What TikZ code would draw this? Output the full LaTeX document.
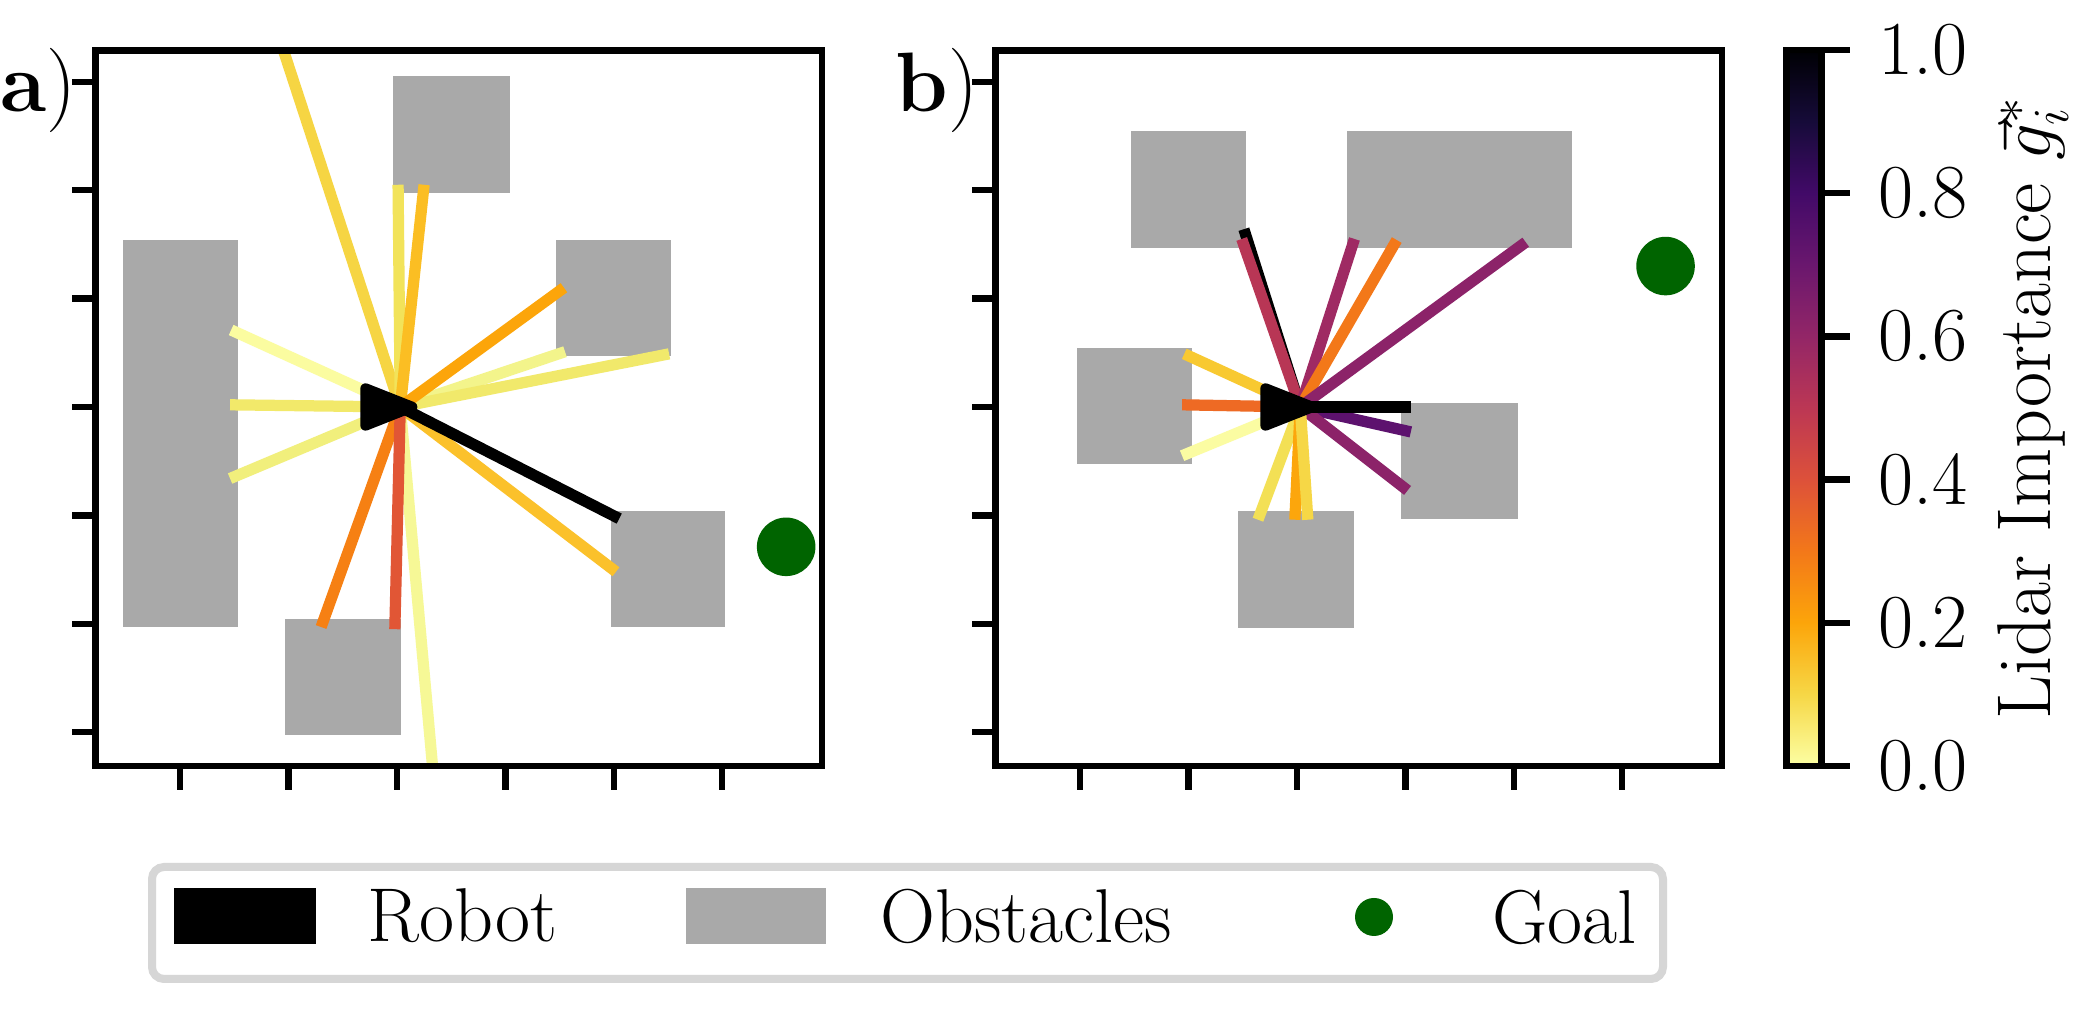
\documentclass[tikz,border=0pt]{standalone}
\usetikzlibrary{positioning}

\definecolor{obstgray}{HTML}{A9A9A9}
\definecolor{goalgreen}{HTML}{006400}
\definecolor{legframe}{HTML}{D6D6D6}
\definecolor{cb0}{HTML}{FCFFA4}
\definecolor{cb1}{HTML}{F6D746}
\definecolor{cb2}{HTML}{FCA50A}
\definecolor{cb3}{HTML}{F37819}
\definecolor{cb4}{HTML}{DD513A}
\definecolor{cb5}{HTML}{BC3754}
\definecolor{cb6}{HTML}{932667}
\definecolor{cb7}{HTML}{6A176E}
\definecolor{cb8}{HTML}{420A68}
\definecolor{cb9}{HTML}{160B39}
\definecolor{cb10}{HTML}{000004}
\pgfdeclareverticalshading{infernor}{100bp}{color(0bp)=(cb0); color(25bp)=(cb0);
	color(30bp)=(cb1); color(35bp)=(cb2); color(40bp)=(cb3); color(45bp)=(cb4);
	color(50bp)=(cb5); color(55bp)=(cb6); color(60bp)=(cb7); color(65bp)=(cb8);
	color(70bp)=(cb9); color(75bp)=(cb10); color(100bp)=(cb10)}

\begin{document}
\begin{tikzpicture}[
		every node/.style={inner sep=0pt,font=\fontsize{21.7}{26}\selectfont},
		axframe/.style={line width=1.8pt},
		axtick/.style={line width=1.8pt},
		obst/.style={fill=obstgray},
		goal/.style={fill=goalgreen},
		ray/.style={line width=3.2pt},
		robot/.style={fill=black,draw=black,line width=3pt,line join=round},
		panellbl/.style={font=\fontsize{24}{28}\selectfont,anchor=base west}
		]
	\fill[white] (0,0) rectangle (21,10.2);
	\useasboundingbox (0,0) rectangle (21,10.2);

	\node[panellbl] (lbla) at (0,9.08) {\textbf{a})};
	\node[panellbl] (lblb) at (8.95,9.08) {\textbf{b})};

	\begin{scope}[shift={(3.97,6.13)},x=1.084cm,y=1.084cm]
		\coordinate (roba) at (0.03,0);
		\fill[obst] (-2.53,-2.03) rectangle (-1.47,1.54);
		\fill[obst] (-0.04,1.97) rectangle (1.04,3.05);
		\fill[obst] (1.47,0.47) rectangle (2.53,1.54);
		\fill[obst] (1.97,-2.03) rectangle (3.03,-0.96);
		\fill[obst] (-1.03,-3.03) rectangle (0.04,-1.96);
		\fill[goal] (3.59,-1.29) circle (0.27);
		\begin{scope}
			\clip (-2.78,-3.31) rectangle (3.92,3.29);
			\foreach \ex/\ey/\rc in {-1.10/3.45/F6D543, 0.34/-3.45/F6F896,
					-1.53/0.71/FBFCA0, -1.54/0.02/F2E96A, -1.54/-0.66/F1EF7C,
					0.01/2.05/F2E35A, 0.25/2.05/FBBE23, 1.55/0.51/F3F48B,
					2.51/0.49/F1E96B, 1.54/1.10/FCA50A, 2.02/-1.52/FBC12B,
					-0.70/-2.03/F68013, -0.02/-2.05/E15635, 2.05/-1.03/000000}{
				\definecolor{raycol}{HTML}{\rc}
				\draw[ray,raycol] (roba) -- (\ex,\ey);
			}
		\end{scope}
		\draw[robot,shift={(0.03,0)}] (-0.32,0.17) -- (-0.32,-0.17) -- (0.11,0) -- cycle;
		\draw[axframe] (-2.78,-3.31) rectangle (3.92,3.29);
		\foreach \t in {-3,...,3}
			\draw[axtick] (-2.78,\t) -- ++(-0.24cm,0);
		\foreach \t in {-2,...,3}
			\draw[axtick] (\t,-3.31) -- ++(0,-0.24cm);
	\end{scope}

	\begin{scope}[shift={(12.97,6.13)},x=1.084cm,y=1.084cm]
		\coordinate (robb) at (0.03,0);
		\fill[obst] (-1.53,1.47) rectangle (-0.47,2.55);
		\fill[obst] (0.46,1.47) rectangle (2.54,2.55);
		\fill[obst] (-2.03,-0.53) rectangle (-0.97,0.54);
		\fill[obst] (0.96,-1.03) rectangle (2.04,0.04);
		\fill[obst] (-0.54,-2.04) rectangle (0.53,-0.96);
		\fill[goal] (3.40,1.30) circle (0.27);
		\foreach \ex/\ey/\rc in {-0.49/1.64/000000, -0.51/1.55/B83655,
				0.53/1.55/9F2A63, 0.92/1.54/F37819, 2.11/1.52/8C2369,
				1.05/-0.23/5D126E, 1.02/-0.77/8C2369, -0.36/-1.04/F3E055,
				-0.02/-1.04/FCA60C, 0.10/-1.04/F6D746, -1.04/0.49/F8C931,
				-1.06/0.02/EE6A24, -1.06/-0.45/FBFCA2, 1.05/0.00/000000}{
			\definecolor{raycol}{HTML}{\rc}
			\draw[ray,raycol] (robb) -- (\ex,\ey);
		}
		\draw[robot,shift={(0.03,0)}] (-0.32,0.17) -- (-0.32,-0.17) -- (0.11,0) -- cycle;
		\draw[axframe] (-2.78,-3.31) rectangle (3.92,3.29);
		\foreach \t in {-3,...,3}
			\draw[axtick] (-2.78,\t) -- ++(-0.24cm,0);
		\foreach \t in {-2,...,3}
			\draw[axtick] (\t,-3.31) -- ++(0,-0.24cm);
	\end{scope}

	\shade[shading=infernor] (17.865,2.54) rectangle (18.215,9.70);
	\draw[axframe] (17.865,2.54) rectangle (18.215,9.70);
	\foreach \v/\lab in {0/0.0,1/0.2,2/0.4,3/0.6,4/0.8,5/1.0}{
		\draw[axtick] (18.215,2.54+\v*1.432) -- ++(0.28,0) coordinate (cbt\v);
		\node[right=0.28cm of cbt\v] (cbl\v) {\lab};
	}
	\node[rotate=90] (cblabel) at (20.33,6.12) {Lidar Importance $\vec{g}_i^*$};

	\draw[legframe,line width=0.08cm,rounded corners=0.12cm,fill=white] (1.52,0.41) rectangle (16.63,1.53);
	\node[fill=black,minimum width=1.42cm,minimum height=0.56cm] (legrobot) at (2.45,1.04) {};
	\node[right=0.5cm of legrobot] (txtrobot) {Robot};
	\node[obst,minimum width=1.40cm,minimum height=0.56cm] (legobst) at (7.56,1.04) {};
	\node[right=0.53cm of legobst] (txtobst) {Obstacles};
	\node[goal,circle,minimum size=0.38cm] (leggoal) at (13.74,1.03) {};
	\node[right=0.98cm of leggoal] (txtgoal) {Goal};
\end{tikzpicture}
\end{document}
